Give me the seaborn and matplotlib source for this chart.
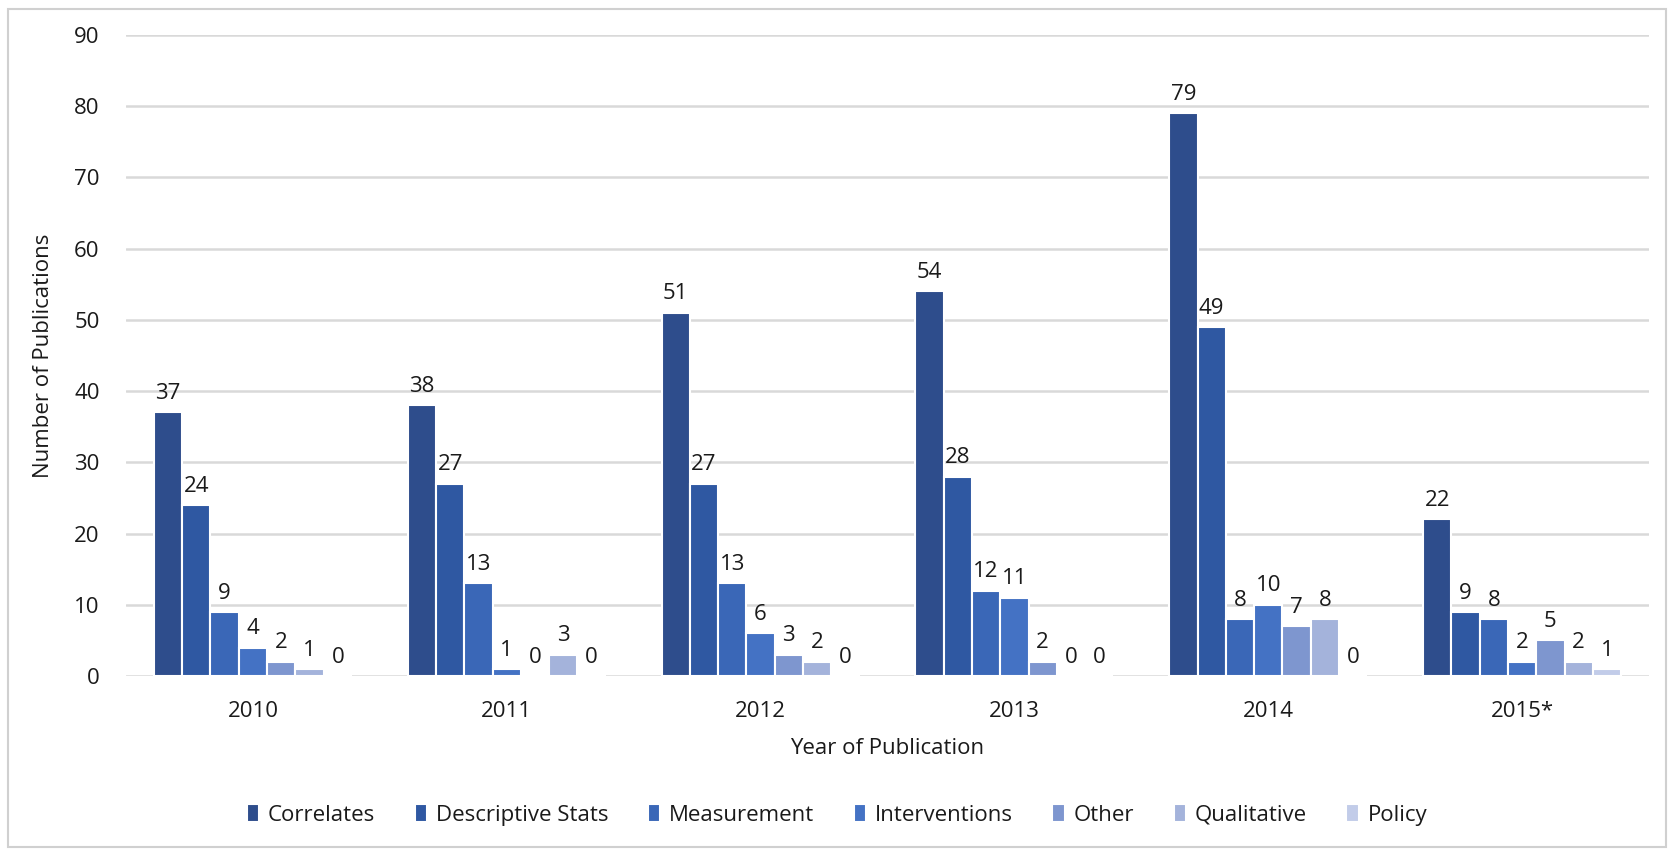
import matplotlib
matplotlib.use("Agg")
import matplotlib.pyplot as plt
import seaborn as sns
import pandas as pd
from matplotlib.patches import Rectangle

years = ["2010", "2011", "2012", "2013", "2014", "2015*"]
types = ["Correlates", "Descriptive Stats", "Measurement", "Interventions", "Other", "Qualitative", "Policy"]
correlates = [37, 38, 51, 54, 79, 22]
descriptive = [24, 27, 27, 28, 49, 9]
measurement = [9, 13, 13, 12, 8, 8]
interventions = [4, 1, 6, 11, 10, 2]
other = [2, 0, 3, 2, 7, 5]
qualitative = [1, 3, 2, 0, 8, 2]
policy = [0, 0, 0, 0, 0, 1]
colors = ["#2E4D8C", "#2F58A2", "#3A67B7", "#4472C4", "#7E96CF", "#A4B3DB", "#C2CCE9"]

series = [correlates, descriptive, measurement, interventions, other, qualitative, policy]
rows = []
for t, vals in zip(types, series):
    for y, v in zip(years, vals):
        rows.append({"Year": y, "Type": t, "Count": v})
df = pd.DataFrame(rows)

sns.set_theme(style="white")
plt.rcParams["font.family"] = ["Open Sans", "DejaVu Sans"]

fig = plt.figure(figsize=(16.74, 8.51), dpi=100)
ax = fig.add_axes([126/1674, 1 - 676/851, (1649-126)/1674, (676-35)/851])

sns.barplot(data=df, x="Year", y="Count", hue="Type", hue_order=types, order=years,
            palette=colors, width=0.78, edgecolor="white", linewidth=1.5,
            saturation=1, ax=ax, legend=True)

for c in ax.containers:
    ax.bar_label(c, padding=6, fontsize=16, color="#1a1a1a")

ax.set_ylim(0, 90)
ax.set_yticks(range(0, 91, 10))
ax.set_xlim(-0.5, 5.5)
ax.yaxis.grid(True, color="#D9D9D9", linewidth=1.8)
ax.set_axisbelow(True)
for s in ax.spines.values():
    s.set_visible(False)
ax.tick_params(axis="both", length=0, labelsize=16, colors="#1a1a1a")
ax.tick_params(axis="y", pad=19)
ax.tick_params(axis="x", pad=18)
ax.set_xlabel("Year of Publication", fontsize=16, color="#1a1a1a")
ax.xaxis.set_label_coords(0.5, -(748-676)/641, transform=ax.transAxes)
ax.xaxis.label.set_va("center")
ax.set_ylabel("Number of Publications", fontsize=16, color="#1a1a1a")
ax.yaxis.set_label_coords((44-126)/1523, 0.5)
ax.yaxis.label.set_va("center")

handles, labels = ax.get_legend_handles_labels()
ax.legend_.remove()
fig.legend(handles, labels, loc="center", bbox_to_anchor=(0.5, 1 - 815/851), ncol=7,
           frameon=False, fontsize=16, handlelength=0.55, handleheight=0.85,
           handletextpad=0.4, columnspacing=1.78, labelcolor="#1a1a1a")

fig.patches.append(Rectangle((8/1674, 4/851), 1658/1674, 838/851, transform=fig.transFigure,
                             fill=False, edgecolor="#D0D0D0", linewidth=1.5))

fig.savefig("out.png", dpi=100, facecolor="white")
